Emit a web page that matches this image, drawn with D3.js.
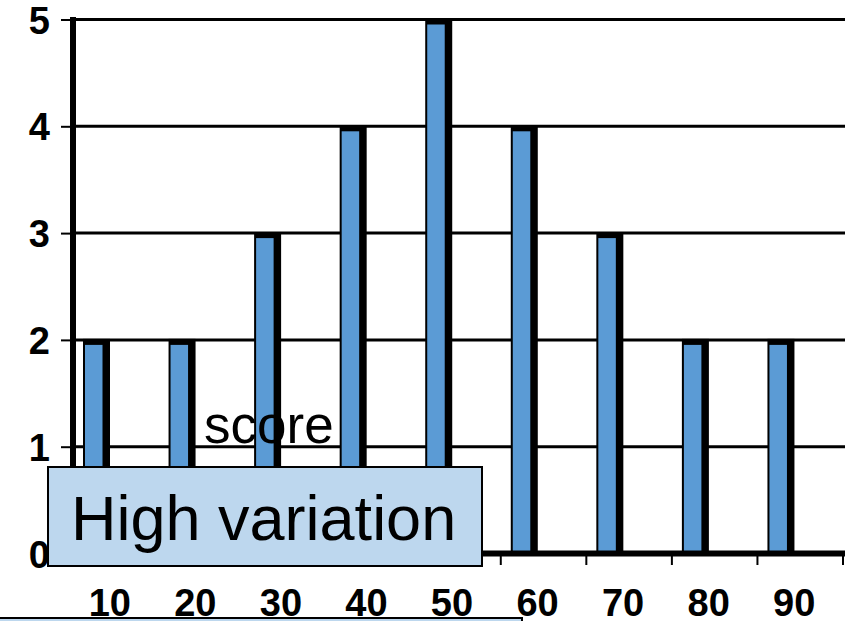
<!DOCTYPE html>
<html>
<head>
<meta charset="utf-8">
<script src="https://cdn.jsdelivr.net/npm/d3@7"></script>
<style>
  html, body { margin: 0; padding: 0; background: #fff; overflow: hidden; }
  svg { display: block; font-family: "Liberation Sans", Arial, sans-serif; }
</style>
</head>
<body>
<svg id="chart" width="845" height="621"></svg>
<script>
const categories = ["10", "20", "30", "40", "50", "60", "70", "80", "90"];
const counts = [2, 2, 3, 4, 5, 4, 3, 2, 2];
const yTicks = [0, 1, 2, 3, 4, 5];
const overlayLabel = "score";
const calloutText = "High variation";

const svg = d3.select("#chart");
const x = d3.scaleBand().domain(categories).range([73, 843]).paddingInner(0).paddingOuter(0);
const y = d3.scaleLinear().domain([0, 5]).range([553.5, 19.5]);

// gridlines
svg.append("g").selectAll("line").data(yTicks.filter(d => d > 0)).join("line")
  .attr("x1", 73).attr("x2", 845)
  .attr("y1", d => y(d)).attr("y2", d => y(d))
  .attr("stroke", "#000").attr("stroke-width", 3);

// bars: black 3D body with blue face
const bw = x.bandwidth();
const bars = svg.append("g");
bars.selectAll("rect.body").data(categories).join("rect").attr("class", "body")
  .attr("x", (d) => x(d) + 10)
  .attr("y", (d, i) => y(counts[i]) - 1)
  .attr("width", 27)
  .attr("height", (d, i) => y(0) - y(counts[i]) + 1)
  .attr("fill", "#000");
bars.selectAll("rect.face").data(categories).join("rect").attr("class", "face")
  .attr("x", (d) => x(d) + 12)
  .attr("y", (d, i) => y(counts[i]) + 5)
  .attr("width", 17.5)
  .attr("height", (d, i) => y(0) - y(counts[i]) - 5)
  .attr("fill", "#5B9BD5");

// y axis
const yAxis = d3.axisLeft(y).tickValues(yTicks).tickSize(9).tickPadding(12).tickFormat(d3.format("d"));
const gy = svg.append("g").attr("transform", "translate(70,0)").call(yAxis);
gy.select(".domain").remove();
gy.selectAll(".tick line").attr("stroke", "#000").attr("stroke-width", 2);
gy.selectAll(".tick text").attr("font-size", 38).attr("font-weight", "bold")
  .attr("fill", "#000").attr("font-family", "Liberation Sans, Arial, sans-serif")
  .attr("x", -20).attr("dy", "0.36em");
svg.append("line").attr("x1", 73).attr("x2", 73).attr("y1", 17).attr("y2", 556)
  .attr("stroke", "#000").attr("stroke-width", 6);

// x axis
const xAxis = d3.axisBottom(x).tickSize(0).tickPadding(0);
const gx = svg.append("g").attr("transform", `translate(0,${y(0)})`).call(xAxis);
gx.select(".domain").remove();
gx.selectAll(".tick text").attr("font-size", 38).attr("font-weight", "bold")
  .attr("fill", "#000").attr("font-family", "Liberation Sans, Arial, sans-serif")
  .attr("x", -6).attr("y", 62).attr("dy", 0);
svg.append("line").attr("x1", 70).attr("x2", 845).attr("y1", 553.5).attr("y2", 553.5)
  .attr("stroke", "#000").attr("stroke-width", 6);
svg.append("g").selectAll("line").data(categories).join("line")
  .attr("x1", d => x(d) + bw).attr("x2", d => x(d) + bw)
  .attr("y1", 556).attr("y2", 565)
  .attr("stroke", "#000").attr("stroke-width", 2);

// overlay text
svg.append("text").attr("x", 204).attr("y", 443)
  .attr("font-size", 53).attr("fill", "#000").text(overlayLabel);

// callout box
svg.append("rect").attr("x", 48).attr("y", 467).attr("width", 434).attr("height", 99)
  .attr("fill", "#BDD7EE").attr("stroke", "#000").attr("stroke-width", 2);
svg.append("text").attr("x", 71).attr("y", 540)
  .attr("font-size", 63).attr("fill", "#000").text(calloutText);

// bottom box (cut off)
svg.append("rect").attr("x", -2).attr("y", 618).attr("width", 524).attr("height", 30)
  .attr("fill", "#BDD7EE").attr("stroke", "#000").attr("stroke-width", 2);
</script>
</body>
</html>
